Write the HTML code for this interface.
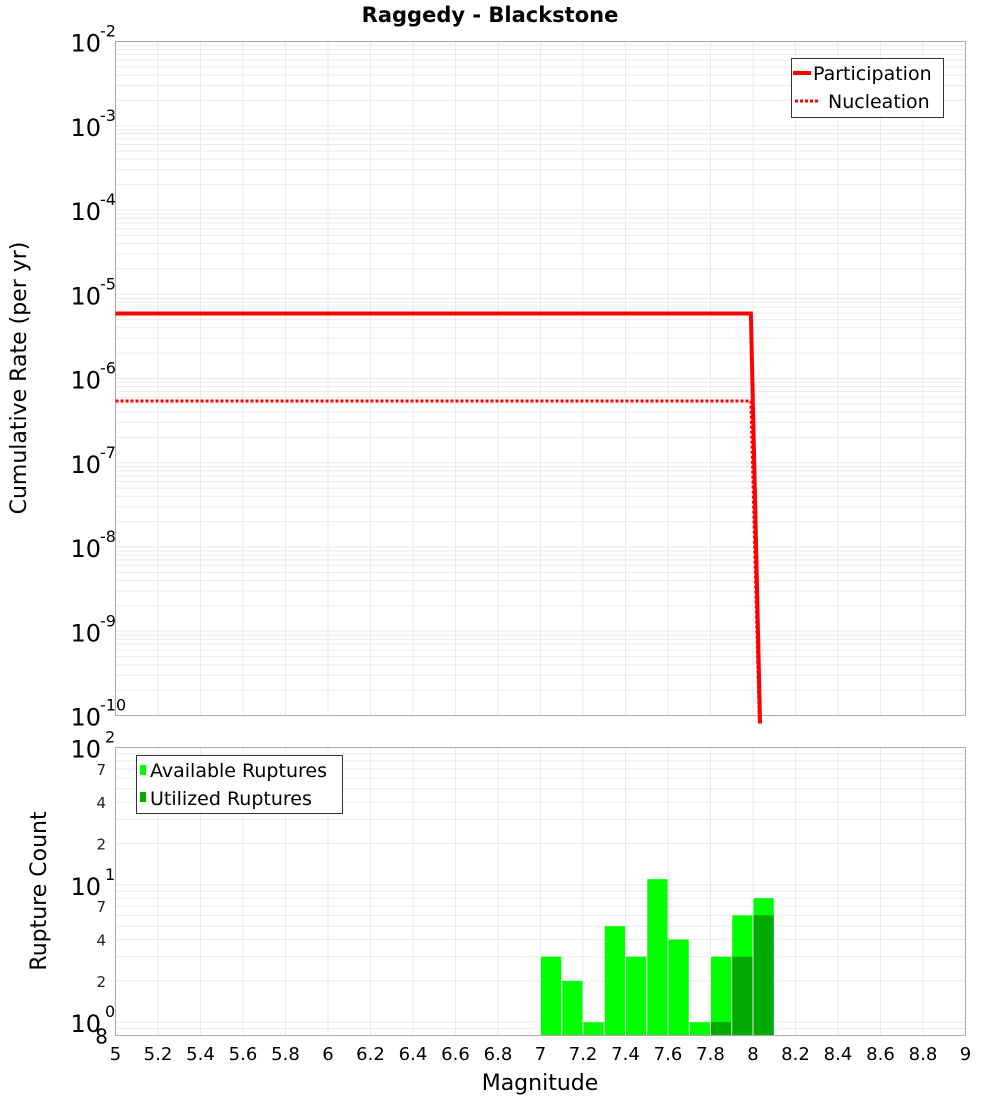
<!DOCTYPE html>
<html><head><meta charset="utf-8"><style>
html,body{margin:0;padding:0;background:#fff;}
svg{display:block;font-family:"DejaVu Sans","Liberation Sans",sans-serif;}
</style></head><body>
<svg id="chart" width="1000" height="1100" viewBox="0 0 1000 1100" xmlns="http://www.w3.org/2000/svg">
<text x="490" y="22" text-anchor="middle" font-size="21" font-weight="bold">Raggedy - Blackstone</text>
<text transform="translate(26,378) rotate(-90)" text-anchor="middle" font-size="22">Cumulative Rate (per yr)</text>
<text transform="translate(46,891) rotate(-90)" text-anchor="middle" font-size="22">Rupture Count</text>
<text x="540" y="1090" text-anchor="middle" font-size="22">Magnitude</text>
<g id="gtop"></g><g id="gbot"></g><g id="gxt"></g>
<g>
<rect x="791.5" y="58.5" width="152" height="59" fill="#fff" stroke="#333"/>
<line x1="793" y1="73" x2="811" y2="73" stroke="#f00" stroke-width="4"/>
<text x="813" y="80" font-size="19">Participation</text>
<line x1="795" y1="101" x2="820" y2="101" stroke="#f00" stroke-width="3" stroke-dasharray="3,2"/>
<text x="828" y="108" font-size="19">Nucleation</text>
</g>
<g>
<rect x="136.5" y="755.5" width="206" height="58" fill="#fff" stroke="#333"/>
<rect x="140" y="765" width="6" height="10" fill="#00ff00"/>
<text x="150" y="777" font-size="19">Available Ruptures</text>
<rect x="140" y="792" width="6" height="10" fill="#00aa00"/>
<text x="150" y="805" font-size="19">Utilized Ruptures</text>
</g>
</svg>
<script>
const partMags=[5.0,7.99,8.05];
const partRates=[5.9e-6,5.9e-6,1e-12];
const nuclMags=[5.0,7.99,8.05];
const nuclRates=[5.4e-7,5.4e-7,1e-12];
const binMags=[7.05,7.15,7.25,7.35,7.45,7.55,7.65,7.75,7.85,7.95,8.05];
const availCounts=[3,2,1,5,3,11,4,1,3,6,8];
const utilCounts=[0,0,0,0,0,0,0,0,1,3,6];
const xTicks=[5,5.2,5.4,5.6,5.8,6,6.2,6.4,6.6,6.8,7,7.2,7.4,7.6,7.8,8,8.2,8.4,8.6,8.8,9];
const topExps=[-2,-3,-4,-5,-6,-7,-8,-9,-10];
const botExps=[2,1,0];

const NS="http://www.w3.org/2000/svg";
const L=115.5,R=965.5,T1=41.5,B1=715.5,T2=747.5,B2=1035.5;
const X=m=>L+(m-5)/(9-5)*(R-L);
const Y1=v=>T1+(-2-Math.log10(v))/8*(B1-T1);
const lmin=Math.log10(0.8);
const Y2=v=>T2+(2-Math.log10(v))/(2-lmin)*(B2-T2);
function mk(p,tag,a,txt){const e=document.createElementNS(NS,tag);for(const k in a)e.setAttribute(k,a[k]);if(txt!==undefined)e.textContent=txt;p.appendChild(e);return e;}
const gTop=document.getElementById('gtop'),gBot=document.getElementById('gbot'),gXt=document.getElementById('gxt');
const defs=mk(document.getElementById('chart'),'defs',{});
const cp=mk(defs,'clipPath',{id:'c1'});mk(cp,'rect',{x:L,y:T1,width:R-L,height:B1-T1+8});
for(let e=-10;e<-2;e++)for(let k=1;k<10;k++){const y=Y1(k*Math.pow(10,e));const g=mk(gTop,'line',{x1:L,x2:R,y1:y,y2:y,stroke:'#ebebeb'});}
xTicks.forEach(m=>{const x=X(m);mk(gTop,'line',{x1:x,x2:x,y1:T1,y2:B1,stroke:'#ebebeb'});mk(gBot,'line',{x1:x,x2:x,y1:T2,y2:B2,stroke:'#ebebeb'});});
mk(gTop,'rect',{x:L,y:T1,width:R-L,height:B1-T1,fill:'none',stroke:'#aaa'});
topExps.forEach(e=>{const y=Y1(Math.pow(10,e));const t=mk(gTop,'text',{x:101,y:y+10,'text-anchor':'end','font-size':24},'10');mk(gTop,'text',{x:100,y:y-5,'font-size':16},String(e));});
function line(ms,rs,dash,name){const pts=ms.map((m,i)=>X(m)+','+Y1(rs[i])).join(' ');const p=mk(gTop,'polyline',{points:pts,fill:'none',stroke:'#f00','stroke-width':dash?3:4,'clip-path':'url(#c1)'});if(dash)p.setAttribute('stroke-dasharray','3,2');}
line(nuclMags,nuclRates,true,'nucleation-line');
line(partMags,partRates,false,'participation-line');
for(let e=-1;e<2;e++)for(let k=1;k<10;k++){const v=k*Math.pow(10,e);if(v<0.8)continue;const y=Y2(v);mk(gBot,'line',{x1:L,x2:R,y1:y,y2:y,stroke:'#ebebeb'});}
const bw=(X(5.1)-X(5));
binMags.forEach((m,i)=>{const x=X(m)-bw/2;let y=Y2(availCounts[i]);const b=mk(gBot,'rect',{x:x+0.5,y:y,width:bw-1,height:B2-y,fill:'#00ff00'});
 if(utilCounts[i]>0){y=Y2(utilCounts[i]);const u=mk(gBot,'rect',{x:x+0.5,y:y,width:bw-1,height:B2-y,fill:'#00aa00'});}});
mk(gBot,'rect',{x:L,y:T2,width:R-L,height:B2-T2,fill:'none',stroke:'#aaa'});
botExps.forEach(e=>{const y=Y2(Math.pow(10,e));const t=mk(gBot,'text',{x:101,y:y+10,'text-anchor':'end','font-size':24},'10');mk(gBot,'text',{x:105,y:y-5,'font-size':16},String(e));});
[70,40,20,7,4,2].forEach(v=>{mk(gBot,'text',{x:106,y:Y2(v)+6,'text-anchor':'end','font-size':15,fill:'#222'},String(v)[0]);});
mk(gBot,'text',{x:108,y:Y2(0.8)+8,'text-anchor':'end','font-size':20},'8');
xTicks.forEach(m=>{const t=mk(gXt,'text',{x:X(m),y:1060,'text-anchor':'middle','font-size':18},String(m));});
</script>
</body></html>
